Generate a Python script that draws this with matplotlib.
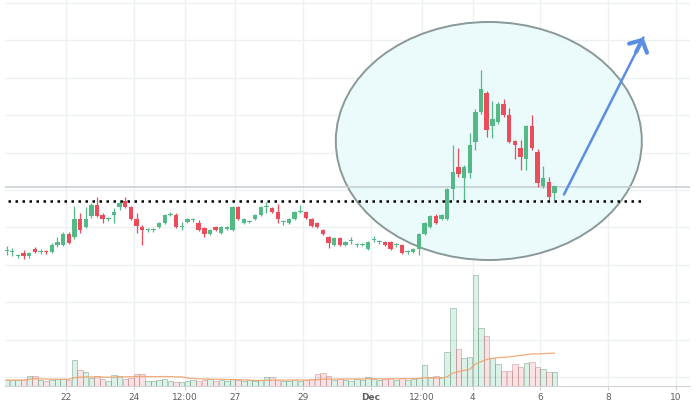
import numpy as np
import pandas as pd
import matplotlib
matplotlib.use('Agg')
import matplotlib.pyplot as plt
from matplotlib.patches import Ellipse
import matplotlib.dates as mdates

# 4h candles (arbitrary price units)
start = '2017-11-20 06:00'
opens = [135, 134, 130, 133, 130, 137, 134, 134.5, 134, 141,
         141, 152, 149, 167, 159, 170, 181, 171, 167, 171,
         179, 185, 179, 167, 159, 156, 156, 159, 163, 171,
         171, 159, 164, 166, 163, 158, 152, 159, 153, 157,
         156, 179, 163, 164, 167, 171, 179, 178, 174, 164,
         163, 167, 174, 174, 167, 163, 156, 149, 141, 148,
         141, 145, 141, 141, 137, 146, 144, 144, 144, 141,
         141, 134, 134, 137, 152, 159, 170, 167, 167, 197,
         219, 208, 213, 244, 274, 293, 260, 264, 282, 271,
         245, 238, 227, 260, 234, 200, 204, 193]
highs = [140, 138, 132, 136, 134, 139, 137, 136, 143, 149,
         154, 154, 180, 173, 179, 183, 189, 173, 169, 178,
         186, 189, 180, 173, 161, 158, 158, 164, 172, 174,
         173, 164, 168, 168, 166, 159, 157, 160, 160, 160,
         180, 180, 168, 166, 172, 180, 184, 179, 182, 166,
         168, 175, 181, 175, 168, 164, 157, 150, 149, 149,
         145, 149, 143, 143, 145, 150, 146, 145, 145, 143,
         142, 136, 138, 153, 164, 171, 172, 172, 198, 241,
         238, 221, 253, 277, 316, 295, 285, 284, 287, 278,
         246, 246, 261, 271, 237, 220, 209, 201]
lows = [131, 130, 128, 127, 128, 133, 132, 132, 133, 139,
        140, 142, 147, 153, 158, 168, 169, 163, 165, 163,
        176, 178, 166, 153, 141, 154, 154, 158, 162, 170,
        158, 156, 163, 164, 155, 149, 151, 155, 152, 156,
        155, 166, 162, 163, 166, 170, 173, 173, 163, 161,
        162, 166, 173, 167, 159, 158, 151, 138, 140, 140,
        140, 142, 139, 140, 136, 144, 142, 140, 136, 139,
        132, 132, 133, 131, 151, 158, 162, 166, 166, 186,
        209, 184, 208, 236, 272, 249, 248, 262, 269, 243,
        227, 216, 216, 236, 199, 198, 186, 186]
closes = [136, 134.5, 130.5, 130, 133, 134, 134.5, 134, 141, 144,
          152, 143, 167, 156, 167, 181, 170, 167, 167.5, 174,
          183, 179, 167, 160, 156, 156.5, 156.5, 163, 171, 172,
          159, 159.5, 167, 166.5, 156, 152, 156, 156, 159, 159,
          179, 167, 167, 164.5, 171, 179, 179.5, 174, 167, 164.5,
          167, 174, 174.5, 168, 160, 159, 152, 143, 148, 141,
          144, 145.5, 141.5, 141.5, 144, 146.5, 144.5, 141, 137, 141.5,
          133, 134.5, 137, 152, 163, 170, 163, 171, 197, 214,
          212, 219, 241, 274, 297, 256, 267, 282, 271, 244,
          241, 229, 260, 238, 203, 208, 189, 200]
volumes = [6, 6, 6, 6, 10, 10, 6, 5, 6, 7,
           7, 6, 26, 16, 14, 8, 10, 7, 5, 11,
           10, 7, 8, 12, 12, 5, 5, 6, 7, 5,
           4, 4, 5, 6, 5, 6, 7, 5, 6, 5,
           7, 6, 5, 6, 5, 6, 9, 9, 6, 5,
           5, 6, 5, 6, 7, 12, 13, 10, 6, 7,
           6, 5, 7, 6, 9, 7, 6, 7, 8, 6,
           8, 6, 7, 8, 21, 9, 10, 9, 34, 78,
           37, 28, 29, 111, 58, 50, 28, 22, 15, 15,
           22, 19, 23, 24, 19, 17, 14, 14]

tick_dates = ['2017-11-22 00:00', '2017-11-24 00:00', '2017-11-25 12:00', '2017-11-27 00:00',
              '2017-11-29 00:00', '2017-12-01 00:00', '2017-12-02 12:00', '2017-12-04 00:00',
              '2017-12-06 00:00', '2017-12-08 00:00', '2017-12-10 00:00']
tick_labels = ['22', '24', '12:00', '27', '29', 'Dec', '12:00', '4', '6', '8', '10']

support_level = 185
last_price_level = 199

green = '#53b987'
red = '#eb4d5c'

x = mdates.date2num(pd.date_range(start, periods=len(opens), freq='4h'))
o = np.array(opens); h = np.array(highs); l = np.array(lows); c = np.array(closes)
up = c >= o
cols = np.where(up, green, red)

fig = plt.figure(figsize=(7, 4.03), dpi=100)
ax = fig.add_axes([5 / 700, 17 / 403, 685 / 700, 386 / 403])
ax.set_xlim(mdates.date2num(pd.Timestamp('2017-11-20 04:50')),
            mdates.date2num(pd.Timestamp('2017-12-10 10:00')))
ax.set_ylim(0, 386)

# grid
ax.set_axisbelow(True)
ax.set_yticks(np.arange(9, 386, 37.4))
ax.set_yticklabels([])
xt = mdates.date2num(pd.to_datetime(tick_dates, format='%Y-%m-%d %H:%M'))
ax.set_xticks(xt)
ax.set_xticklabels(tick_labels, fontsize=6.5, color='#5f5f5f')
for lab in ax.get_xticklabels():
    if lab.get_text() == 'Dec':
        lab.set_fontweight('bold')
ax.grid(True, color='#edf0f2', lw=1)
ax.tick_params(axis='y', length=0)
ax.tick_params(axis='x', length=3, color='#d0d0d0', pad=2)
for s in ['top', 'left', 'right']:
    ax.spines[s].set_visible(False)
ax.spines['bottom'].set_color('#cfd3d6')

# highlighted zone
ell = Ellipse((mdates.date2num(pd.Timestamp('2017-12-04 11:30')), 245),
              width=9.03, height=238, facecolor=(0.91, 0.985, 0.99, 0.85),
              edgecolor='#8a9898', lw=1.4, zorder=1.5)
ax.add_patch(ell)

# price line
ax.axhline(last_price_level, color='#c3cdd1', lw=1.1, zorder=1.6)

# volume on its own scale
ax2 = ax.twinx()
ax2.set_ylim(0, 386)
ax2.axis('off')
vface = [(0.33, 0.73, 0.53, 0.2) if u else (0.92, 0.30, 0.36, 0.16) for u in up]
vedge = [(0.45, 0.62, 0.52, 0.5) if u else (0.75, 0.5, 0.52, 0.45) for u in up]
ax2.bar(x, volumes, width=0.16, color=vface, edgecolor=vedge, lw=0.7)
ma = pd.Series(volumes).rolling(20, min_periods=1).mean()
ax2.plot(x, ma, color='#f2a36b', lw=0.9, alpha=0.9)

# candles
ax.vlines(x, l, h, colors=cols, lw=0.9, zorder=3)
body = np.maximum(np.abs(c - o), 1.0)
ax.bar(x, body, bottom=np.minimum(o, c), width=0.13, color=cols, zorder=3.2)

# support line
ax.plot([mdates.date2num(pd.Timestamp('2017-11-20 07:00')),
         mdates.date2num(pd.Timestamp('2017-12-09 02:00'))],
        [support_level, support_level], color='black', lw=1.8,
        linestyle=(0, (1, 1.8)), zorder=4)

# arrow
a0 = (mdates.date2num(pd.Timestamp('2017-12-06 15:50')), 189)
a1 = (mdates.date2num(pd.Timestamp('2017-12-09 01:55')), 351)
ax.annotate('', xy=a1, xytext=a0,
            arrowprops=dict(arrowstyle='-', color='#5b8de3', lw=1.8), zorder=5)
amid = (a1[0] - (a1[0] - a0[0]) * 0.12, a1[1] - (a1[1] - a0[1]) * 0.12)
ax.annotate('', xy=a1, xytext=amid,
            arrowprops=dict(arrowstyle='->,head_length=0.55,head_width=0.6',
                            color='#5b8de3', lw=3, mutation_scale=12), zorder=5)

fig.savefig('out.png', dpi=100)
